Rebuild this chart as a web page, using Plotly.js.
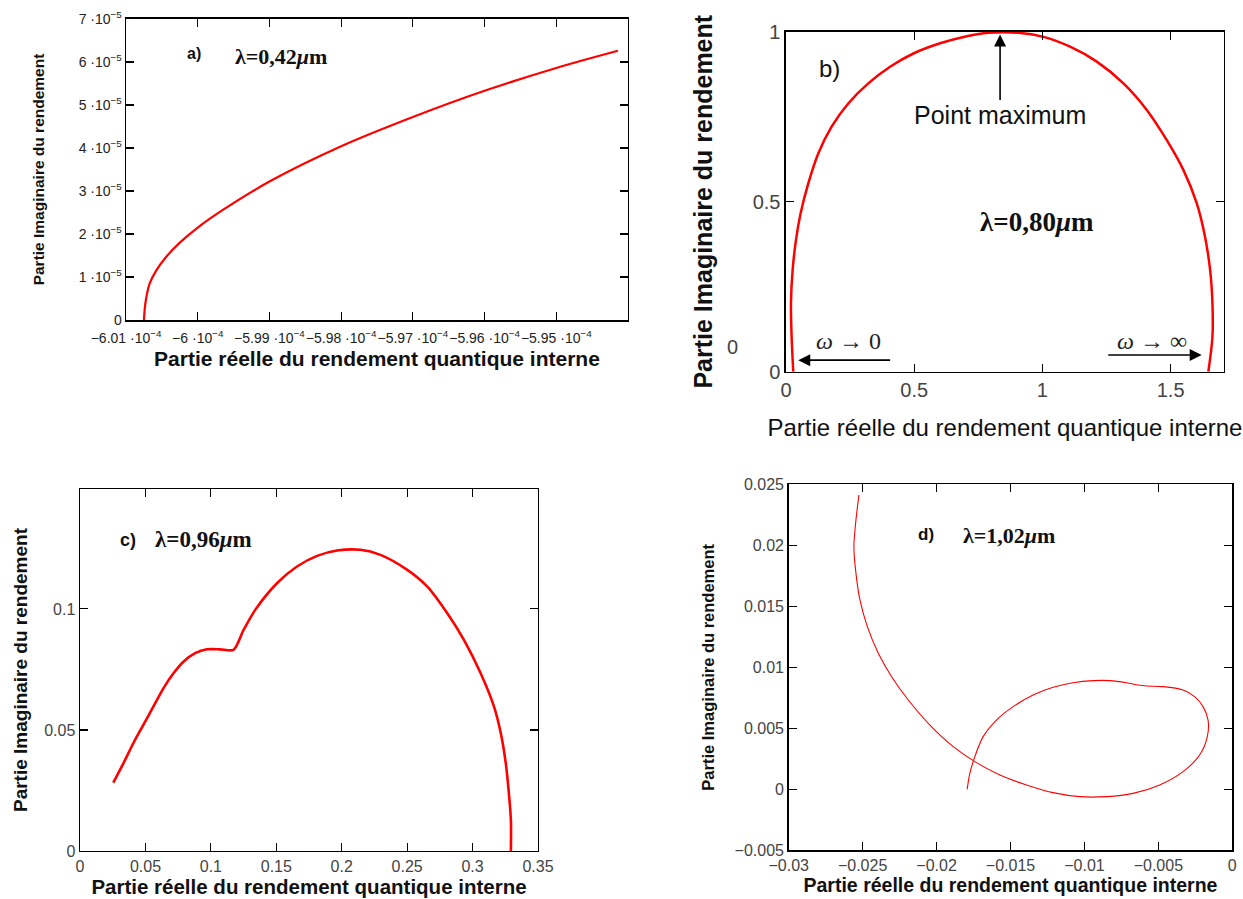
<!DOCTYPE html>
<html>
<head>
<meta charset="utf-8">
<script src="https://cdn.plot.ly/plotly-3.0.1.min.js"></script>
<style>html,body{margin:0;padding:0;background:#fff;}#chart{width:1243px;height:899px;}</style>
</head>
<body>
<div id="chart"></div>
<script>
// ---- Panel a) lambda = 0.42 um ----
const aRe = [-6.0075e-4, -6.0074e-4, -6.0072e-4, -6.0067e-4, -6.0058e-4, -6.0045e-4, -6.0025e-4, -6.0000e-4, -5.9965e-4, -5.9900e-4, -5.9800e-4, -5.9700e-4, -5.9600e-4, -5.9500e-4, -5.9414e-4];
const aIm = [0, 0.25e-5, 0.5e-5, 0.85e-5, 1.15e-5, 1.45e-5, 1.8e-5, 2.15e-5, 2.56e-5, 3.22e-5, 4.04e-5, 4.72e-5, 5.33e-5, 5.86e-5, 6.26e-5];
const aXTickVals = [-6.01e-4, -6.00e-4, -5.99e-4, -5.98e-4, -5.97e-4, -5.96e-4, -5.95e-4];
const aXTickText = ["\u22126.01 \u00b710<sup>\u22124</sup>", "\u22126 \u00b710<sup>\u22124</sup>", "\u22125.99 \u00b710<sup>\u22124</sup>", "\u22125.98 \u00b710<sup>\u22124</sup>", "\u22125.97 \u00b710<sup>\u22124</sup>", "\u22125.96 \u00b710<sup>\u22124</sup>", "\u22125.95 \u00b710<sup>\u22124</sup>"];
const aYTickVals = [0, 1e-5, 2e-5, 3e-5, 4e-5, 5e-5, 6e-5, 7e-5];
const aYTickText = ["0", "1 \u00b710<sup>\u22125</sup>", "2 \u00b710<sup>\u22125</sup>", "3 \u00b710<sup>\u22125</sup>", "4 \u00b710<sup>\u22125</sup>", "5 \u00b710<sup>\u22125</sup>", "6 \u00b710<sup>\u22125</sup>", "7 \u00b710<sup>\u22125</sup>"];

// ---- Panel b) lambda = 0.80 um ----
const bRe = [0.0286, 0.0221, 0.0195, 0.026, 0.039, 0.0572, 0.0871, 0.126, 0.178, 0.243, 0.321, 0.406, 0.497, 0.601, 0.705, 0.789, 0.906, 1.004, 1.108, 1.212, 1.316, 1.407, 1.485, 1.55, 1.602, 1.634, 1.654, 1.663, 1.663, 1.647];
const bIm = [0, 0.103, 0.201, 0.299, 0.387, 0.466, 0.554, 0.642, 0.721, 0.789, 0.848, 0.897, 0.936, 0.966, 0.987, 0.997, 0.997, 0.985, 0.956, 0.912, 0.848, 0.770, 0.681, 0.593, 0.495, 0.397, 0.299, 0.201, 0.103, 0];

// ---- Panel c) lambda = 0.96 um ----
const cRe = [0.0254, 0.0331, 0.0407, 0.0484, 0.056, 0.0637, 0.0714, 0.079, 0.088, 0.0969, 0.1071, 0.1173, 0.125, 0.1339, 0.1505, 0.1658, 0.1812, 0.1965, 0.2143, 0.2296, 0.2501, 0.2654, 0.2807, 0.2934, 0.3062, 0.3164, 0.3216, 0.3254, 0.328, 0.3293, 0.3293];
const cIm = [0.0282, 0.0362, 0.0445, 0.0521, 0.0596, 0.0672, 0.0734, 0.0782, 0.0817, 0.0833, 0.0833, 0.0831, 0.0913, 0.0996, 0.1106, 0.1175, 0.1219, 0.1241, 0.1244, 0.1223, 0.1161, 0.1092, 0.0982, 0.0872, 0.0734, 0.0596, 0.0486, 0.0362, 0.0224, 0.0128, 0];

// ---- Panel d) lambda = 1.02 um ----
const dRe = [-0.02525, -0.02545, -0.02559, -0.02545, -0.02518, -0.02468, -0.02394, -0.02304, -0.02191, -0.02045, -0.01887, -0.01741, -0.01572, -0.01392, -0.01212, -0.01032, -0.00851, -0.00671, -0.00491, -0.00333, -0.00221, -0.00169, -0.00164, -0.00198, -0.00255, -0.00333, -0.00468, -0.00581, -0.00637, -0.00716, -0.00829, -0.00941, -0.01077, -0.01212, -0.01347, -0.01482, -0.01595, -0.01685, -0.01741, -0.01775, -0.01793];
const dIm = [0.02413, 0.02208, 0.01989, 0.0177, 0.01552, 0.01333, 0.01115, 0.00923, 0.00732, 0.00527, 0.0035, 0.00227, 0.00117, 0.00036, -0.00027, -0.0006, -0.0006, -0.00033, 0.00036, 0.00145, 0.00281, 0.00432, 0.00568, 0.00678, 0.0076, 0.00814, 0.00842, 0.00847, 0.00855, 0.00874, 0.00891, 0.00891, 0.00874, 0.00836, 0.00773, 0.00678, 0.00568, 0.00432, 0.00268, 0.00131, 0];

const xTitle = "Partie r\u00e9elle du rendement quantique interne";
const yTitle = "Partie Imaginaire du rendement";
const RED = "#ff0000";
const SANS = "Liberation Sans, Arial, sans-serif";
const SERIF = "Liberation Serif, Times New Roman, serif";

function axisBase(extra) {
  return Object.assign({
    showline: true, linecolor: "#000", linewidth: 1.5, mirror: "ticks",
    ticks: "inside", ticklen: 8, tickcolor: "#000", tickwidth: 1.2,
    showgrid: false, zeroline: false, fixedrange: true, tickangle: 0,
    tickfont: {family: SANS, size: 14, color: "#333"}
  }, extra);
}

const traces = [
  {x: aRe, y: aIm, xaxis: "x", yaxis: "y", mode: "lines", line: {color: RED, width: 2.2, shape: "spline", smoothing: 1}, hoverinfo: "skip"},
  {x: bRe, y: bIm, xaxis: "x2", yaxis: "y2", mode: "lines", line: {color: RED, width: 2.5, shape: "spline", smoothing: 0.9}, hoverinfo: "skip"},
  {x: cRe, y: cIm, xaxis: "x3", yaxis: "y3", mode: "lines", line: {color: RED, width: 2.6, shape: "spline", smoothing: 0.8}, hoverinfo: "skip"},
  {x: dRe, y: dIm, xaxis: "x4", yaxis: "y4", mode: "lines", line: {color: RED, width: 1.1, shape: "spline", smoothing: 0.9}, hoverinfo: "skip"}
];

const arrowStyle = {showarrow: true, arrowhead: 2, arrowsize: 1.5, arrowwidth: 1.6, arrowcolor: "#000", text: ""};

const layout = {
  width: 1243, height: 899,
  margin: {l: 0, r: 0, t: 0, b: 0},
  paper_bgcolor: "#fff", plot_bgcolor: "#fff",
  showlegend: false,
  xaxis: axisBase({domain: [0.1014, 0.5052], anchor: "y", range: [-6.01e-4, -5.940e-4], ticklabelstandoff: 5,
    tickmode: "array", tickvals: aXTickVals, ticktext: aXTickText, tickfont: {family: SANS, size: 14, color: "#222"},
    title: {text: xTitle, font: {family: SANS, size: 21, color: "#111", weight: "bold"}, standoff: 6}}),
  yaxis: axisBase({domain: [0.644, 0.9789], anchor: "x", range: [0, 7e-5],
    tickmode: "array", tickvals: aYTickVals, ticktext: aYTickText, tickfont: {family: SANS, size: 14, color: "#222"},
    title: {text: yTitle, font: {family: SANS, size: 15.5, color: "#111", weight: "bold"}, standoff: 30}}),
  xaxis2: axisBase({domain: [0.6323, 0.9847], anchor: "y2", range: [0, 1.708], tickmode: "array", tickvals: [0, 0.5, 1, 1.5],
    tickfont: {family: SANS, size: 20, color: "#444"},
    title: {text: xTitle, font: {family: SANS, size: 24, color: "#111"}, standoff: 19}}),
  yaxis2: axisBase({domain: [0.5865, 0.9647], anchor: "x2", range: [0, 1], tickmode: "array", tickvals: [0, 0.5, 1],
    tickfont: {family: SANS, size: 20, color: "#444"},
    title: {text: yTitle, font: {family: SANS, size: 25, color: "#111", weight: "bold"}, standoff: 33}}),
  xaxis3: axisBase({domain: [0.0644, 0.4328], anchor: "y3", range: [0, 0.35], tickmode: "array", tickvals: [0, 0.05, 0.1, 0.15, 0.2, 0.25, 0.3, 0.35],
    tickfont: {family: SANS, size: 16, color: "#444"},
    title: {text: xTitle, font: {family: SANS, size: 20.5, color: "#111", weight: "bold"}, standoff: 5}}),
  yaxis3: axisBase({domain: [0.0534, 0.456], anchor: "x3", range: [0, 0.1495], tickmode: "array", tickvals: [0, 0.05, 0.1],
    tickfont: {family: SANS, size: 16, color: "#444"},
    title: {text: yTitle, font: {family: SANS, size: 19, color: "#111", weight: "bold"}, standoff: 11}}),
  xaxis4: axisBase({domain: [0.6345, 0.9914], anchor: "y4", range: [-0.03, 0], tickmode: "array", tickvals: [-0.03, -0.025, -0.02, -0.015, -0.01, -0.005, 0],
    tickfont: {family: SANS, size: 16, color: "#444"},
    title: {text: xTitle, font: {family: SANS, size: 19.5, color: "#111", weight: "bold"}, standoff: 5}}),
  yaxis4: axisBase({domain: [0.0541, 0.4613], anchor: "x4", range: [-0.005, 0.025], tickmode: "array", tickvals: [-0.005, 0, 0.005, 0.01, 0.015, 0.02, 0.025],
    tickfont: {family: SANS, size: 16, color: "#444"},
    title: {text: yTitle, font: {family: SANS, size: 16.5, color: "#111", weight: "bold"}, standoff: 16}}),
  annotations: [
    // panel a
    {xref: "x", yref: "y", x: -6.0005e-4, y: 6.2e-5, text: "<b>a)</b>", showarrow: false, font: {family: SANS, size: 16, color: "#111"}},
    {xref: "x", yref: "y", x: -5.9884e-4, y: 6.13e-5, text: "<b>\u03bb=0,42<i>\u03bc</i>m</b>", showarrow: false, font: {family: SERIF, size: 22, color: "#111"}},
    // panel b
    {xref: "x2", yref: "y2", x: 0.169, y: 0.892, text: "b)", showarrow: false, font: {family: SANS, size: 24, color: "#111"}},
    {xref: "x2", yref: "y2", x: 0.835, y: 0.755, text: "Point maximum", showarrow: false, font: {family: SANS, size: 25, color: "#111"}},
    Object.assign({xref: "x2", yref: "y2", axref: "x2", ayref: "y2", x: 0.835, y: 0.992, ax: 0.835, ay: 0.795}, arrowStyle),
    {xref: "x2", yref: "y2", x: 0.978, y: 0.441, text: "<b>\u03bb=0,80<i>\u03bc</i>m</b>", showarrow: false, font: {family: SERIF, size: 27, color: "#111"}},
    {xref: "x2", yref: "y2", x: 0.243, y: 0.09, text: "<i>\u03c9</i> \u2192 0", showarrow: false, font: {family: SERIF, size: 24, color: "#222"}},
    Object.assign({xref: "x2", yref: "y2", axref: "x2", ayref: "y2", x: 0.048, y: 0.034, ax: 0.412, ay: 0.034}, arrowStyle),
    {xref: "x2", yref: "y2", x: 1.426, y: 0.09, text: "<i>\u03c9</i> \u2192 \u221e", showarrow: false, font: {family: SERIF, size: 24, color: "#222"}},
    Object.assign({xref: "x2", yref: "y2", axref: "x2", ayref: "y2", x: 1.621, y: 0.049, ax: 1.251, ay: 0.049}, arrowStyle),
    {xref: "paper", yref: "paper", x: 0.5897, y: 0.614, text: "0", showarrow: false, font: {family: SANS, size: 20, color: "#444"}},
    // panel c
    {xref: "x3", yref: "y3", x: 0.037, y: 0.1286, text: "<b>c)</b>", showarrow: false, font: {family: SANS, size: 18, color: "#111"}},
    {xref: "x3", yref: "y3", x: 0.0946, y: 0.1286, text: "<b>\u03bb=0,96<i>\u03bc</i>m</b>", showarrow: false, font: {family: SERIF, size: 23, color: "#111"}},
    // panel d
    {xref: "x4", yref: "y4", x: -0.0207, y: 0.0209, text: "<b>d)</b>", showarrow: false, font: {family: SANS, size: 17, color: "#111"}},
    {xref: "x4", yref: "y4", x: -0.0151, y: 0.0208, text: "<b>\u03bb=1,02<i>\u03bc</i>m</b>", showarrow: false, font: {family: SERIF, size: 22, color: "#111"}}
  ]
};

Plotly.newPlot("chart", traces, layout, {staticPlot: true, displayModeBar: false});
</script>
</body>
</html>
